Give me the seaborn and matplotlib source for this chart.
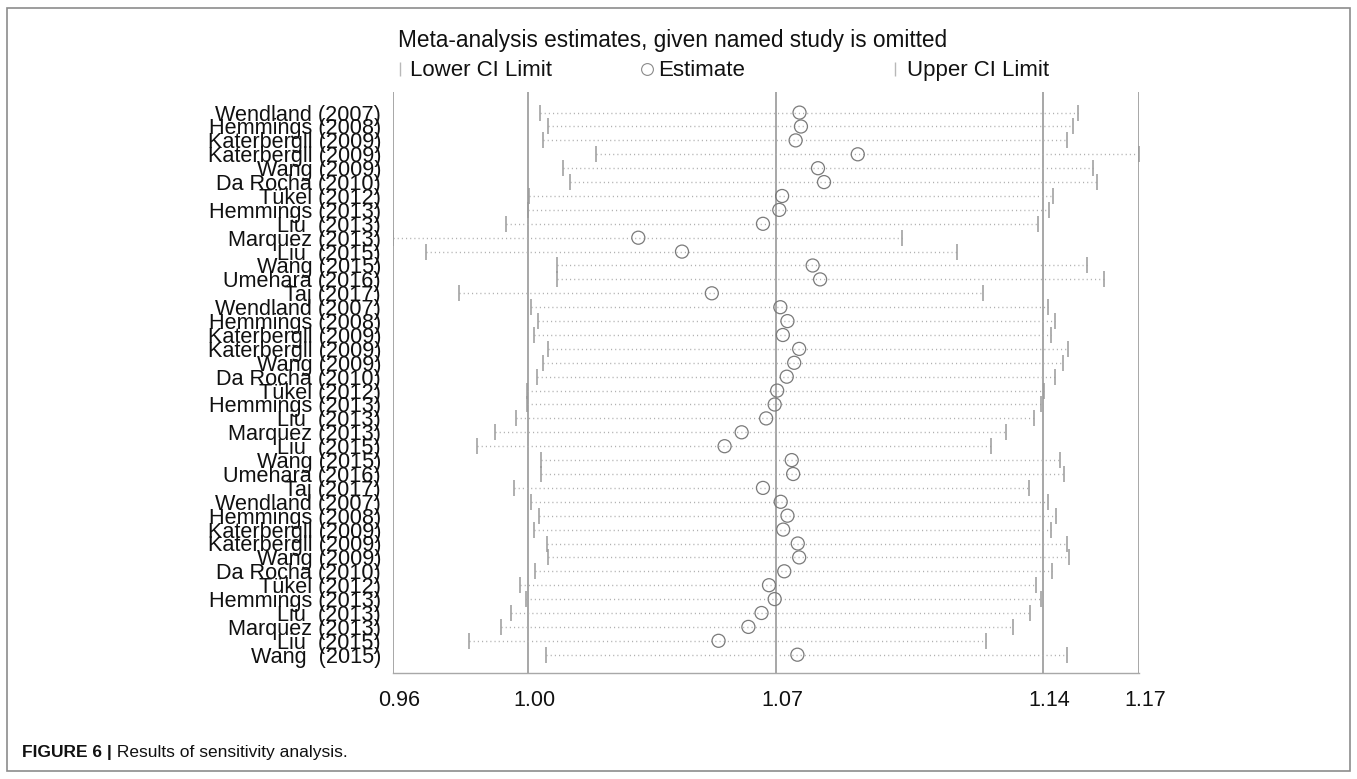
import numpy as np
import pandas as pd
import matplotlib
matplotlib.use("Agg")
import matplotlib.pyplot as plt
import matplotlib.transforms as mtransforms
from matplotlib.lines import Line2D
from matplotlib.patches import Rectangle
import seaborn as sns

# ---------------- data ----------------
group_a = ["Wendland (2007)", "Hemmings (2008)", "Katerbergll (2009)", "Katerbergll (2009)",
           "Wang (2009)", "Da Rocha (2010)", "Tükel (2012)", "Hemmings (2013)",
           "Liu  (2013)", "Marquez (2013)", "Liu  (2015)", "Wang (2015)",
           "Umehara (2016)", "Taj (2017)"]
group_c = ["Wendland (2007)", "Hemmings (2008)", "Katerbergll (2009)", "Katerbergll (2009)",
           "Wang (2009)", "Da Rocha (2010)", "Tükel (2012)", "Hemmings (2013)",
           "Liu  (2013)", "Marquez (2013)", "Liu  (2015)", "Wang  (2015)"]
studies = group_a + group_a + group_c

lower = [1.0012, 1.0035, 1.0022, 1.0171, 1.0077, 1.0097, 0.9983, 0.9978, 0.9918, 0.9600,
         0.9691, 1.0062, 1.0060, 0.9786,
         0.9987, 1.0008, 0.9996, 1.0036, 1.0022, 1.0006, 0.9977, 0.9976, 0.9946, 0.9886,
         0.9835, 1.0017, 1.0016, 0.9941,
         0.9987, 1.0009, 0.9996, 1.0033, 1.0035, 0.9999, 0.9956, 0.9973, 0.9931, 0.9902,
         0.9814, 1.0029]
estimate = [1.0744, 1.0748, 1.0733, 1.0908, 1.0796, 1.0813, 1.0695, 1.0687, 1.0641, 1.0290,
            1.0413, 1.0781, 1.0802, 1.0497,
            1.0690, 1.0710, 1.0697, 1.0743, 1.0729, 1.0708, 1.0681, 1.0674, 1.0650, 1.0581,
            1.0533, 1.0722, 1.0726, 1.0641,
            1.0691, 1.0710, 1.0698, 1.0739, 1.0743, 1.0701, 1.0658, 1.0674, 1.0637, 1.0600,
            1.0516, 1.0738]
upper = [1.1528, 1.1513, 1.1498, 1.1700, 1.1570, 1.1583, 1.1459, 1.1447, 1.1416, 1.1032,
         1.1188, 1.1553, 1.1601, 1.1261,
         1.1445, 1.1464, 1.1451, 1.1499, 1.1485, 1.1463, 1.1433, 1.1424, 1.1403, 1.1326,
         1.1283, 1.1477, 1.1488, 1.1391,
         1.1444, 1.1465, 1.1451, 1.1497, 1.1503, 1.1455, 1.1411, 1.1425, 1.1394, 1.1346,
         1.1268, 1.1497]

tick_values = [0.96, 0.9980, 1.0679, 1.1430, 1.17]
tick_labels = ["0.96", "1.00", "1.07", "1.14", "1.17"]

title_text = "Meta-analysis estimates, given named study is omitted"
legend_labels = ["Lower CI Limit", "Estimate", "Upper CI Limit"]
caption_bold = "FIGURE 6 |"
caption_rest = " Results of sensitivity analysis."

# ---------------- style ----------------
sns.set_style("white")
plt.rcParams["font.family"] = ["Liberation Sans", "DejaVu Sans"]
plt.rcParams["text.color"] = "#111111"
plt.rcParams["xtick.color"] = "#999999"
plt.rcParams["xtick.labelcolor"] = "#111111"
plt.rcParams["ytick.labelcolor"] = "#111111"

W, H = 1357, 779
fig = plt.figure(figsize=(W / 100, H / 100), dpi=100)
fig.patch.set_facecolor("white")

left_px, right_px, top_px, bottom_px = 393.3, 1139.0, 92.0, 672.7
ax = fig.add_axes([left_px / W, 1 - bottom_px / H,
                   (right_px - left_px) / W, (bottom_px - top_px) / H])

df = pd.DataFrame({"study": studies, "lower": lower, "estimate": estimate,
                   "upper": upper, "pos": np.arange(len(studies))})

grid_col = "#8f8f8f"
for tv in tick_values:
    ax.axvline(tv, color=grid_col, lw=1.1, zorder=1)

ax.hlines(df["pos"], df["lower"], df["upper"], colors="#b0b0b0",
          linestyles=(0, (0.8, 2.2)), lw=1.0, zorder=2)
ax.plot(df["lower"], df["pos"], ls="none", marker="|", ms=11.5, mew=1.1,
        color="#9a9a9a", zorder=3)
ax.plot(df["upper"], df["pos"], ls="none", marker="|", ms=11.5, mew=1.1,
        color="#9a9a9a", zorder=3)
sns.scatterplot(data=df, x="estimate", y="pos", ax=ax, marker="o", s=88,
                facecolor="none", edgecolor="#7a7a7a", linewidth=0.9, zorder=4,
                legend=False)

row_px = 13.9
ax.set_xlim(0.96, 1.17)
ax.set_ylim(len(studies) - 1 + (bottom_px - 654.7) / row_px, -(112.6 - top_px) / row_px)

ax.set_yticks(df["pos"])
ax.set_yticklabels(df["study"], fontsize=15.6)
ax.tick_params(axis="y", length=0, pad=8.8)

ax.set_xticks(tick_values)
ax.set_xticklabels(tick_labels, fontsize=15.5)
ax.tick_params(axis="x", length=10, width=0.9, color="#999999", pad=2.5, direction="out")
offset = mtransforms.ScaledTranslation(6 / 100, 0, fig.dpi_scale_trans)
for lab in ax.get_xticklabels():
    lab.set_transform(lab.get_transform() + offset)

ax.set_xlabel("")
ax.set_ylabel("")
for s in ["top", "left", "right"]:
    ax.spines[s].set_visible(False)
ax.spines["bottom"].set_color("#a8a8a8")
ax.spines["bottom"].set_linewidth(1.0)

# ---------------- title & legend ----------------
def fx(px):
    return px / W

def fy(py):
    return 1 - py / H

fig.text(fx(398), fy(46.5), title_text, fontsize=16.25, va="baseline", ha="left")

leg_y = 69
leg_base = 76
fig.add_artist(Line2D([fx(400)], [fy(leg_y)], transform=fig.transFigure, marker="|",
                      ms=10, mew=1.0, color="#b8b8b8", ls="none"))
fig.text(fx(410), fy(leg_base), legend_labels[0], fontsize=16, va="baseline", ha="left")
fig.add_artist(Line2D([fx(647)], [fy(leg_y)], transform=fig.transFigure, marker="o",
                      ms=8.5, mew=0.8, mfc="none", mec="#8a8a8a", ls="none"))
fig.text(fx(658), fy(leg_base), legend_labels[1], fontsize=16, va="baseline", ha="left")
fig.add_artist(Line2D([fx(895)], [fy(leg_y)], transform=fig.transFigure, marker="|",
                      ms=10, mew=1.0, color="#b8b8b8", ls="none"))
fig.text(fx(907), fy(leg_base), legend_labels[2], fontsize=16, va="baseline", ha="left")

# ---------------- caption & frame ----------------
renderer = fig.canvas.get_renderer()
t1 = fig.text(fx(22), fy(757), caption_bold, fontsize=12.5, fontweight="bold",
              va="baseline", ha="left")
bb = t1.get_window_extent(renderer=renderer)
fig.text(bb.x1 / W, fy(757), caption_rest, fontsize=12.5, va="baseline", ha="left")

fig.add_artist(Rectangle((fx(7), fy(771)), (1350 - 7) / W, (771 - 8) / H,
                         transform=fig.transFigure, fill=False, ec="#8c8c8c", lw=1.2))

fig.savefig("out.png", dpi=100)
